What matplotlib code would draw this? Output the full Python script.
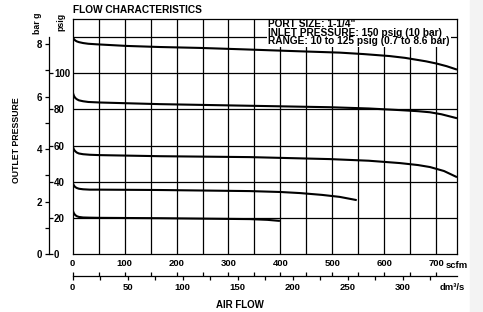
import numpy as np
import matplotlib
matplotlib.use("Agg")
import matplotlib.pyplot as plt
from matplotlib.patches import Rectangle

plt.rcParams['font.family'] = ['Liberation Sans', 'DejaVu Sans']
plt.rcParams['font.weight'] = 'bold'

# flow (scfm) / outlet pressure (psig), one curve per setting
c1_x = [0, 1, 2.5, 5, 8, 12, 20, 30, 46, 104, 168, 245, 330, 420, 514, 560, 610, 640, 680, 700, 720, 740]
c1_y = [120.3, 119.6, 118.8, 118.1, 117.6, 117.2, 116.7, 116.3, 116.0, 115.1, 114.5, 114.0, 113.2,
        112.3, 111.4, 110.6, 109.5, 108.5, 106.6, 105.4, 103.9, 102.0]
c2_x = [0, 1, 2.5, 5, 8, 12, 20, 30, 53, 116, 168, 341, 495, 570, 630, 665, 688, 710, 740]
c2_y = [89.7, 88.6, 87.4, 86.3, 85.6, 85.0, 84.5, 84.1, 83.8, 83.3, 82.9, 82.0, 81.2, 80.5, 79.6,
        79.0, 78.4, 77.3, 75.1]
c3_x = [0, 1, 2.5, 5, 8, 12, 20, 33, 52, 168, 341, 495, 570, 630, 665, 688, 715, 740]
c3_y = [59.8, 58.8, 57.7, 56.8, 56.1, 55.6, 55.2, 54.9, 54.7, 54.1, 53.6, 52.5, 51.6, 50.3, 49.2,
        48.1, 45.9, 42.5]
c4_x = [0, 1, 2.5, 5, 8, 12, 20, 33, 52, 168, 341, 400, 438, 480, 514, 547]
c4_y = [39.6, 38.7, 37.8, 37.0, 36.5, 36.1, 35.8, 35.6, 35.6, 35.4, 34.8, 34.3, 33.7, 32.7, 31.6, 29.8]
c5_x = [0, 1, 2.5, 5, 8, 12, 20, 33, 52, 168, 341, 375, 399]
c5_y = [24.3, 23.4, 22.4, 21.5, 20.9, 20.5, 20.2, 20.1, 20.0, 19.8, 19.3, 18.9, 18.3]
curves = [(c1_x, c1_y), (c2_x, c2_y), (c3_x, c3_y), (c4_x, c4_y), (c5_x, c5_y)]

scfm_labels = [0, 100, 200, 300, 400, 500, 600, 700]
dm3s_labels = [0, 50, 100, 150, 200, 250, 300]
psig_labels = [0, 20, 40, 60, 80, 100]
bar_labels = [0, 2, 4, 6, 8]

BAR = 14.5038   # psig per bar
DM3S = 2.1189   # scfm per dm3/s

W, H = 483, 312
fx = lambda px: px / W
fy = lambda py: 1 - py / H

fig = plt.figure(figsize=(W / 100, H / 100), dpi=100)
fig.patches.append(Rectangle((fx(470), 0), 1 - fx(470), 1, transform=fig.transFigure,
                             color='#f3f3f3', zorder=0))

x0, x1, ytop, ybot = 72.7, 457, 19, 254
ax = fig.add_axes([fx(x0), fy(ybot), fx(x1) - fx(x0), fy(ytop) - fy(ybot)])
ax.set_xlim(0, 740)
ax.set_ylim(0, 130)
ax.set_xticks([])
ax.set_yticks([])
for s in ax.spines.values():
    s.set_linewidth(0.9)
    s.set_zorder(6)
for v in range(50, 701, 50):
    ax.axvline(v, color='black', lw=0.9, zorder=1)
for v in range(20, 121, 20):
    ax.axhline(v, color='black', lw=0.9, zorder=1)
for cx, cy in curves:
    ax.plot(cx, cy, color='black', lw=1.5, zorder=2, solid_capstyle='butt')

fig.text(fx(x0), fy(10), 'FLOW CHARACTERISTICS', fontsize=7.3, ha='left', va='center')
ax.text(fx(268), fy(32.5), 'PORT SIZE: 1-1/4"\nINLET PRESSURE: 150 psig (10 bar)\n'
        'RANGE: 10 to 125 psig (0.7 to 8.6 bar)', transform=fig.transFigure,
        fontsize=7.3, ha='left', va='center', linespacing=0.8, zorder=5,
        bbox=dict(fc='white', ec='none', pad=0.8))

# left pressure scale: bar on the left side, psig on the right side
axl = fig.add_axes([fx(48.5), fy(ybot), 0.0001, fy(ytop) - fy(ybot)])
axl.set_ylim(0, 130)
axl.patch.set_visible(False)
for k in ['top', 'bottom', 'right']:
    axl.spines[k].set_visible(False)
axl.spines['left'].set_bounds(0, 120)
axl.spines['left'].set_linewidth(0.9)
axl.set_xticks([])
axl.set_yticks([b * BAR for b in bar_labels])
axl.set_yticklabels([str(b) for b in bar_labels])
axl.set_yticks([b * BAR for b in [1, 3, 5, 7]], minor=True)
axl.tick_params(axis='y', which='both', direction='out', length=3, width=0.9,
                labelsize=7, pad=1.5)

axr = axl.twinx()
axr.set_ylim(0, 130)
for k in ['top', 'bottom', 'right', 'left']:
    axr.spines[k].set_visible(False)
axr.set_yticks(psig_labels)
axr.set_yticklabels([str(p) for p in psig_labels])
axr.tick_params(axis='y', direction='out', length=3, width=0.9, labelsize=7, pad=1)

fig.text(fx(37.5), fy(34), 'bar g', rotation=90, fontsize=6.3, ha='center', va='bottom')
fig.text(fx(61), fy(31), 'psig', rotation=90, fontsize=6.3, ha='center', va='bottom')
fig.text(fx(17), fy(140), 'OUTLET PRESSURE', rotation=90, fontsize=6.3,
         ha='center', va='center')

# bottom flow scale: scfm above the line, dm3/s below
axb = fig.add_axes([fx(x0), fy(276), fx(x1) - fx(x0), 0.0001])
axb.set_xlim(0, 740)
axb.patch.set_visible(False)
for k in ['left', 'right', 'top']:
    axb.spines[k].set_visible(False)
axb.spines['bottom'].set_linewidth(0.9)
axb.set_yticks([])
axb.set_xticks([d * DM3S for d in dm3s_labels])
axb.set_xticklabels([str(d) for d in dm3s_labels])
axb.set_xticks([d * DM3S for d in range(25, 326, 50)], minor=True)
axb.tick_params(axis='x', which='both', direction='out', length=3, width=0.9,
                labelsize=6.8, pad=2, bottom=True, top=False)

axt = axb.twiny()
axt.set_xlim(0, 740)
for k in ['left', 'right', 'top', 'bottom']:
    axt.spines[k].set_visible(False)
axt.set_xticks(scfm_labels)
axt.set_xticklabels([str(s) for s in scfm_labels])
axt.set_xticks(range(50, 701, 100), minor=True)
axt.tick_params(axis='x', which='both', direction='out', length=3, width=0.9,
                labelsize=6.8, pad=2.5)

fig.text(fx(446), fy(265), 'scfm', fontsize=6.8, ha='left', va='center')
fig.text(fx(440), fy(287), 'dm³/s', fontsize=6.8, ha='left', va='center')
fig.text(fx(240), fy(305), 'AIR FLOW', fontsize=7, ha='center', va='center')

fig.savefig('out.png', dpi=100)
